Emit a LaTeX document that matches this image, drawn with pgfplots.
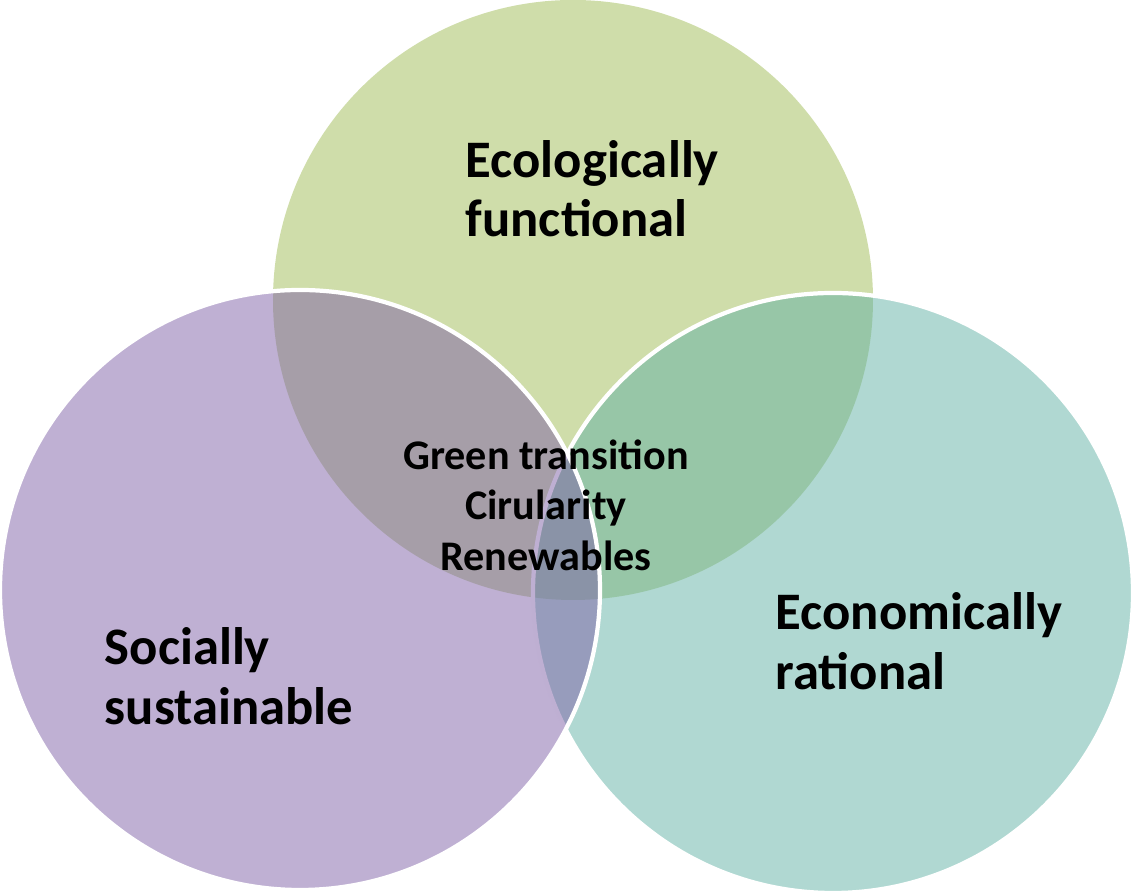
\documentclass[border=0pt]{standalone}
\usepackage{pgfplots}
\pgfplotsset{compat=1.18}
\usepackage{fontspec}
\setmainfont{Carlito}
\definecolor{ecogreen}{RGB}{207,221,170}
\definecolor{socpurple}{RGB}{127,97,167}
\definecolor{ecoteal}{RGB}{97,177,165}
\begin{document}
\begin{tikzpicture}
\begin{axis}[
  width=11.33cm, height=8.92cm, scale only axis,
  xmin=0, xmax=1133, ymin=0, ymax=892,
  hide axis, clip=true,
]
\coordinate (bbSW) at (axis cs:0,0);
\coordinate (bbNE) at (axis cs:1133,892);
% circles: centre (x,y), radius in axis units
\fill[ecogreen] (axis cs:573,592) circle[radius=300];
\filldraw[fill=ecoteal, fill opacity=0.5, draw=white, draw opacity=1, line width=1.2pt] (axis cs:833,299) circle[radius=300];
\filldraw[fill=socpurple, fill opacity=0.5, draw=white, draw opacity=1, line width=1.2pt] (axis cs:300,302) circle[radius=300];
% labels
\node[anchor=base west, font=\fontsize{15}{18}\selectfont\bfseries, inner sep=0pt] at (axis cs:465,714) {Ecologically};
\node[anchor=base west, font=\fontsize{15}{18}\selectfont\bfseries, inner sep=0pt] at (axis cs:465,655) {functional};
\node[anchor=base west, font=\fontsize{15}{18}\selectfont\bfseries, inner sep=0pt] at (axis cs:104,227) {Socially};
\node[anchor=base west, font=\fontsize{15}{18}\selectfont\bfseries, inner sep=0pt] at (axis cs:104,167) {sustainable};
\node[anchor=base west, font=\fontsize{15}{18}\selectfont\bfseries, inner sep=0pt] at (axis cs:775,262) {Economically};
\node[anchor=base west, font=\fontsize{15}{18}\selectfont\bfseries, inner sep=0pt] at (axis cs:775,202) {rational};
\node[anchor=base, font=\fontsize{12}{14}\selectfont\bfseries, inner sep=0pt] at (axis cs:546,422) {Green transition};
\node[anchor=base, font=\fontsize{12}{14}\selectfont\bfseries, inner sep=0pt] at (axis cs:546,372) {Cirularity};
\node[anchor=base, font=\fontsize{12}{14}\selectfont\bfseries, inner sep=0pt] at (axis cs:546,321) {Renewables};
\end{axis}
\pgfresetboundingbox
\useasboundingbox (bbSW) rectangle (bbNE);
\end{tikzpicture}
\end{document}
